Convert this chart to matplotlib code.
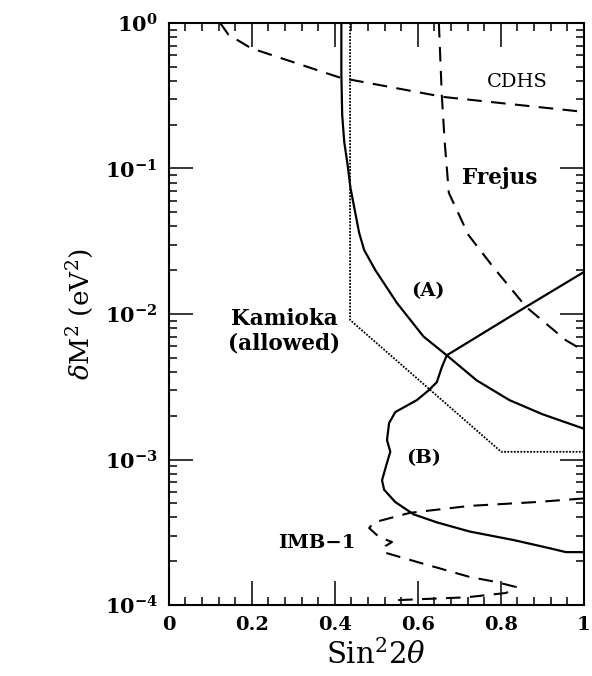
import numpy as np
import matplotlib.pyplot as plt
from matplotlib.ticker import MultipleLocator, LogLocator, NullFormatter, FixedLocator

plt.rcParams['font.family'] = 'DejaVu Serif'
plt.rcParams['mathtext.fontset'] = 'dejavuserif'

# CDHS limit (dashed)
cdhs_x = [0.124, 0.144, 0.199, 0.414, 0.663, 1.0]
cdhs_y = [1.0, 0.83, 0.67, 0.42, 0.31, 0.245]

# Frejus limit (dashed)
frejus_x = [0.651, 0.658, 0.665, 0.675, 0.722, 0.782, 0.861, 0.957, 1.0]
frejus_y = [1.0, 0.32, 0.152, 0.068, 0.035, 0.021, 0.0112, 0.0066, 0.0056]

# Kamioka allowed region boundary (dotted)
kam_x = [0.437, 0.437, 0.801, 1.0]
kam_y = [1.0, 0.0091, 0.00113, 0.00113]

# curve (A) (solid)
a_x = [0.416, 0.416, 0.418, 0.423, 0.431, 0.438, 0.447, 0.459, 0.471, 0.498, 0.550,
       0.614, 0.670, 0.742, 0.821, 0.900, 1.0]
a_y = [1.0, 0.45, 0.233, 0.152, 0.106, 0.0735, 0.054, 0.036, 0.0275, 0.020, 0.0119,
       0.0070, 0.0052, 0.0035, 0.00256, 0.00205, 0.00163]

# curve (B) (solid)
b_x = [1.0, 0.861, 0.670, 0.658, 0.646, 0.627, 0.598, 0.546, 0.531, 0.526, 0.534, 0.526,
       0.514, 0.519, 0.546, 0.590, 0.646, 0.725, 0.830, 0.917, 0.957, 1.0]
b_y = [0.0194, 0.0112, 0.0052, 0.0043, 0.0034, 0.0030, 0.00256, 0.00212, 0.00178, 0.00136,
       0.00113, 0.00095, 0.00072, 0.00062, 0.00051, 0.00042, 0.00037, 0.00032, 0.00028,
       0.000246, 0.000231, 0.000231]

# IMB-1 limit (dashed)
imb_x = [1.0, 0.885, 0.725, 0.581, 0.495, 0.483, 0.507, 0.538, 0.522, 0.517, 0.574,
         0.725, 0.789, 0.837, 0.813, 0.718, 0.550, 0.538]
imb_y = [0.00054, 0.00051, 0.00048, 0.00043, 0.00037, 0.000338, 0.000293, 0.000271,
         0.000254, 0.000231, 0.000207, 0.000156, 0.000144, 0.000133, 0.000121, 0.000113,
         0.000108, 0.0001]

fig = plt.figure(figsize=(5.92, 6.76), dpi=100)
ax = fig.add_axes([0.285, 0.105, 0.701, 0.861])

dash = (0, (7, 4.5))
ax.plot(cdhs_x, cdhs_y, color='black', lw=1.5, linestyle=dash)
ax.plot(frejus_x, frejus_y, color='black', lw=1.5, linestyle=dash)
ax.plot(imb_x, imb_y, color='black', lw=1.5, linestyle=dash)
ax.plot(kam_x, kam_y, color='black', lw=1.3, linestyle=(0, (1, 0.8)))
ax.plot(a_x, a_y, color='black', lw=1.6)
ax.plot(b_x, b_y, color='black', lw=1.6)

ax.set_yscale('log')
ax.set_xlim(0, 1)
ax.set_ylim(1e-4, 1)

ax.xaxis.set_major_locator(FixedLocator([0, 0.2, 0.4, 0.6, 0.8, 1.0]))
ax.xaxis.set_minor_locator(MultipleLocator(0.04))
ax.set_xticklabels(['0', '0.2', '0.4', '0.6', '0.8', '1'], fontweight='bold', fontsize=14)
ax.yaxis.set_major_locator(LogLocator(base=10, numticks=10))
ax.yaxis.set_minor_locator(LogLocator(base=10, subs=np.arange(2, 10), numticks=10))
ax.yaxis.set_minor_formatter(NullFormatter())
ax.set_yticks([1e-4, 1e-3, 1e-2, 1e-1, 1])
ax.set_yticklabels([r'$\mathbf{10^{-4}}$', r'$\mathbf{10^{-3}}$', r'$\mathbf{10^{-2}}$',
                    r'$\mathbf{10^{-1}}$', r'$\mathbf{10^{0}}$'], fontsize=15)

ax.tick_params(which='both', direction='in', top=True, right=True, width=1.1)
ax.tick_params(which='major', length=17, pad=8)
ax.tick_params(which='minor', length=6)
for s in ax.spines.values():
    s.set_linewidth(1.5)

ax.set_xlabel(r'Sin$^2$2$\theta$', fontsize=21, labelpad=4)
ax.set_ylabel(r'$\delta$M$^2$ (eV$^2$)', fontsize=19, labelpad=6)

ax.text(0.84, 0.39, 'CDHS', fontsize=14, ha='center', va='center')
ax.text(0.797, 0.086, 'Frejus', fontsize=15.5, fontweight='bold', ha='center', va='center')
ax.text(0.624, 0.0144, '(A)', fontsize=14, fontweight='bold', ha='center', va='center')
ax.text(0.278, 0.0076, 'Kamioka\n(allowed)', fontsize=15.5, fontweight='bold', ha='center',
        va='center', linespacing=1.1)
ax.text(0.615, 0.00102, '(B)', fontsize=14, fontweight='bold', ha='center', va='center')
ax.text(0.357, 0.000267, 'IMB\u22121', fontsize=14, fontweight='bold', ha='center', va='center')

fig.savefig('out.png', dpi=100)
